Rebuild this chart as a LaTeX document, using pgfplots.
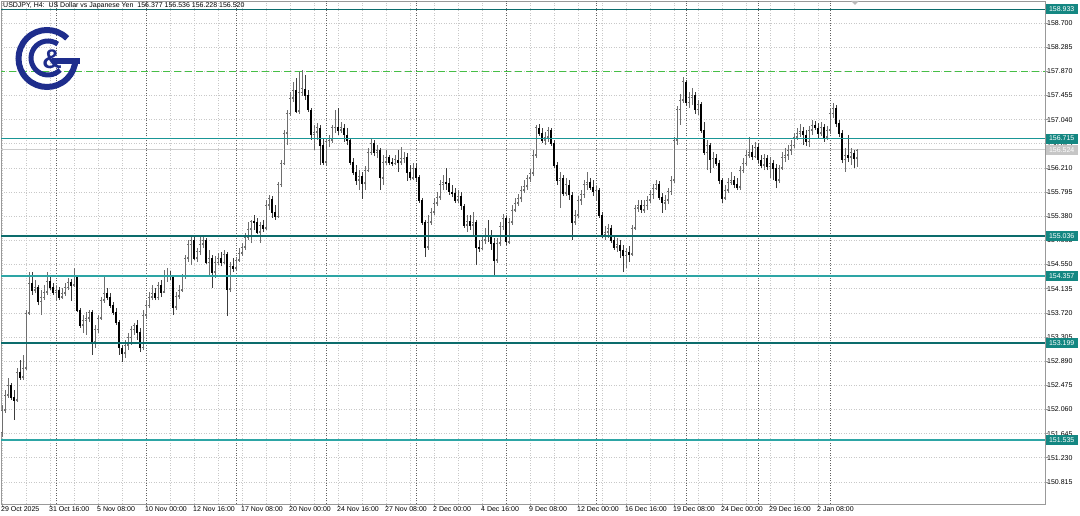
\documentclass[border=0pt]{standalone}
\usepackage{fontspec}
\setmainfont{Liberation Sans}
\usepackage{pgfplots}
\usepackage{pgfplotstable}
\pgfplotsset{compat=1.18}
\definecolor{bullc}{RGB}{110,110,110}
\definecolor{bearwick}{RGB}{60,60,60}
\definecolor{gridc}{RGB}{200,200,200}
\definecolor{sepc}{RGB}{95,95,95}
\definecolor{lvdark}{RGB}{12,108,108}
\definecolor{lvmid}{RGB}{25,150,150}
\definecolor{lvlight}{RGB}{45,165,165}
\definecolor{boxc}{RGB}{20,135,130}
\definecolor{navy}{RGB}{30,45,140}
\definecolor{dashgreen}{RGB}{70,190,70}
\definecolor{bidc}{RGB}{205,205,205}

\pgfplotstableread{
i o h l c
0 151.66 152.14 151.59 152.05
1 152.05 152.40 152.00 152.31
2 152.31 152.60 152.26 152.48
5 152.22 152.77 152.19 152.70
7 152.62 153.00 152.57 152.77
8 152.77 153.77 152.74 153.72
9 153.72 154.42 153.68 154.23
11 154.11 154.29 154.06 154.16
13 153.91 154.11 153.68 153.98
14 153.98 154.20 153.94 154.08
15 154.08 154.42 154.03 154.27
18 154.08 154.20 153.94 154.11
20 153.99 154.15 153.96 154.06
21 154.06 154.23 154.01 154.16
22 154.16 154.32 154.11 154.25
24 154.20 154.49 154.16 154.34
27 153.51 153.68 153.37 153.60
28 153.60 153.73 153.34 153.63
29 153.63 153.77 153.56 153.73
31 153.22 153.51 153.12 153.43
32 153.43 153.68 153.37 153.63
33 153.63 153.99 153.60 153.94
34 153.94 154.37 153.89 154.06
41 153.03 153.25 152.94 153.17
42 153.17 153.37 153.08 153.30
43 153.30 153.49 153.17 153.43
44 153.43 153.55 153.34 153.51
47 153.12 153.77 153.08 153.68
48 153.68 153.94 153.63 153.85
49 153.85 154.08 153.80 153.99
50 153.99 154.20 153.94 154.06
52 153.98 154.25 153.94 154.20
54 154.08 154.46 154.06 154.34
55 154.34 154.49 154.25 154.37
58 153.82 154.08 153.77 154.01
59 154.01 154.20 153.96 154.11
60 154.11 154.39 154.08 154.34
61 154.34 154.71 154.30 154.66
62 154.66 154.97 154.59 154.89
63 154.89 155.02 154.54 154.97
65 154.66 154.83 154.59 154.77
66 154.77 155.02 154.71 154.90
67 154.90 155.04 154.83 154.97
69 154.59 154.80 154.37 154.66
71 154.42 154.70 154.32 154.58
72 154.58 154.75 154.54 154.66
74 154.59 154.80 154.56 154.73
76 154.13 154.59 154.08 154.52
78 154.49 154.68 154.46 154.63
79 154.63 154.83 154.59 154.75
80 154.75 154.92 154.70 154.85
81 154.85 155.09 154.80 155.02
82 155.02 155.28 154.97 155.16
83 155.16 155.32 154.92 155.30
86 155.11 155.28 154.92 155.23
88 155.18 155.66 155.14 155.57
89 155.57 155.74 155.49 155.68
92 155.38 155.97 155.35 155.92
93 155.92 156.35 155.88 156.29
94 156.29 156.86 156.26 156.81
95 156.81 157.21 156.60 157.15
96 157.15 157.51 157.10 157.41
97 157.41 157.69 157.34 157.55
99 157.19 157.86 157.14 157.51
100 157.51 157.89 157.45 157.57
104 156.78 156.95 156.52 156.83
105 156.83 156.98 156.69 156.90
108 156.31 156.72 156.26 156.66
109 156.66 156.78 156.57 156.69
110 156.69 156.95 156.64 156.90
111 156.90 157.21 156.81 156.91
113 156.86 157.00 156.81 156.90
119 156.00 156.17 155.83 156.07
121 155.95 156.24 155.83 156.17
122 156.17 156.55 156.14 156.48
123 156.48 156.72 156.43 156.64
125 156.48 156.60 156.38 156.52
127 156.04 156.43 155.92 156.31
128 156.31 156.52 156.26 156.40
131 156.29 156.43 156.26 156.35
133 156.31 156.57 156.26 156.38
134 156.38 156.48 156.29 156.40
137 156.04 156.29 156.00 156.21
142 154.85 155.40 154.80 155.28
143 155.28 155.52 155.23 155.45
144 155.45 155.69 155.40 155.61
145 155.61 155.80 155.56 155.71
146 155.71 156.00 155.66 155.92
147 155.92 156.09 155.83 155.97
152 155.66 155.83 155.61 155.73
155 155.23 155.40 155.11 155.30
157 155.23 155.45 155.02 155.28
160 154.83 155.06 154.80 154.97
161 154.97 155.18 154.90 155.06
165 154.63 155.01 154.58 154.92
166 154.92 155.28 154.87 155.20
167 155.20 155.42 155.14 155.35
169 154.94 155.35 154.90 155.28
170 155.28 155.57 155.23 155.49
171 155.49 155.69 155.45 155.61
172 155.61 155.76 155.56 155.69
173 155.69 155.90 155.62 155.83
174 155.83 156.00 155.78 155.90
175 155.90 156.09 155.83 156.04
176 156.04 156.19 155.97 156.12
177 156.12 156.52 156.07 156.43
178 156.43 156.95 156.38 156.90
181 156.69 156.83 156.60 156.74
182 156.74 156.91 156.66 156.86
186 156.00 156.14 155.52 156.04
188 155.78 156.04 155.73 155.92
191 155.28 155.49 155.23 155.40
192 155.40 155.73 155.35 155.66
193 155.66 155.83 155.57 155.75
194 155.75 156.00 155.69 155.92
195 155.92 156.14 155.83 155.97
198 155.80 155.92 155.66 155.83
201 155.06 155.21 154.97 155.11
202 155.11 155.25 155.01 155.18
205 154.85 155.01 154.77 154.89
208 154.71 154.83 154.49 154.77
210 154.73 155.23 154.70 155.18
211 155.18 155.57 155.14 155.52
212 155.52 155.66 155.45 155.57
214 155.49 155.66 155.44 155.56
215 155.56 155.73 155.49 155.66
216 155.66 155.83 155.61 155.75
217 155.75 155.93 155.68 155.86
218 155.86 156.00 155.83 155.93
221 155.61 155.75 155.49 155.66
222 155.66 155.86 155.59 155.80
223 155.80 156.07 155.75 156.00
224 156.00 156.74 155.95 156.69
225 156.69 157.27 156.60 157.21
226 157.21 157.48 156.95 157.38
227 157.38 157.77 157.33 157.69
229 157.33 157.51 157.24 157.43
230 157.43 157.58 157.29 157.46
232 157.21 157.38 157.12 157.31
235 156.48 156.69 156.17 156.60
237 156.35 156.48 156.21 156.38
241 155.69 155.92 155.66 155.83
242 155.83 156.04 155.78 155.97
243 155.97 156.14 155.92 156.00
246 155.88 156.24 155.83 156.17
247 156.17 156.38 156.12 156.29
248 156.29 156.52 156.24 156.43
249 156.43 156.74 156.38 156.48
251 156.41 156.66 156.38 156.57
254 156.26 156.45 156.17 156.38
256 156.23 156.40 156.04 156.29
259 156.00 156.26 155.95 156.21
260 156.21 156.48 156.17 156.40
261 156.40 156.55 156.31 156.43
262 156.43 156.60 156.35 156.52
263 156.52 156.69 156.43 156.60
264 156.60 156.81 156.55 156.74
265 156.74 156.90 156.69 156.81
266 156.81 156.97 156.74 156.84
269 156.66 156.93 156.57 156.86
270 156.86 157.03 156.78 156.95
273 156.81 157.00 156.76 156.91
275 156.74 156.93 156.69 156.86
276 156.86 157.24 156.81 157.15
277 157.15 157.33 157.07 157.24
281 156.35 156.55 156.14 156.43
283 156.40 156.55 156.26 156.47
285 156.377 156.536 156.228 156.520
}\bull

\pgfplotstableread{
i o h l c
3 152.48 152.52 152.22 152.27
4 152.27 152.40 151.88 152.22
6 152.70 152.91 152.57 152.62
10 154.23 154.42 154.03 154.11
12 154.16 154.20 153.85 153.91
16 154.27 154.37 154.11 154.16
17 154.16 154.23 154.03 154.08
19 154.11 154.16 153.94 153.99
23 154.25 154.30 153.92 154.20
25 154.34 154.37 153.73 153.77
26 153.77 153.80 153.46 153.51
30 153.73 153.77 153.00 153.22
35 154.06 154.15 153.94 153.99
36 153.99 154.06 153.80 153.85
37 153.85 153.91 153.68 153.73
38 153.73 153.80 153.51 153.56
39 153.56 153.60 153.00 153.12
40 153.12 153.17 152.88 153.03
45 153.51 153.60 153.25 153.39
46 153.39 153.46 153.05 153.12
51 154.06 154.15 153.94 153.98
53 154.20 154.29 153.99 154.08
56 154.37 154.44 154.29 154.34
57 154.34 154.37 153.68 153.82
64 154.97 155.02 154.63 154.66
68 154.97 155.01 154.56 154.59
70 154.66 154.71 154.15 154.42
73 154.66 154.77 154.52 154.59
75 154.73 154.77 153.67 154.13
77 154.52 154.66 154.42 154.49
84 155.30 155.40 155.14 155.28
85 155.28 155.35 155.07 155.11
87 155.23 155.32 155.11 155.18
90 155.68 155.73 155.35 155.45
91 155.45 155.57 155.32 155.38
98 157.55 157.76 157.15 157.19
101 157.57 157.81 157.38 157.46
102 157.46 157.55 157.17 157.21
103 157.21 157.24 156.69 156.78
106 156.90 156.95 156.26 156.60
107 156.60 156.72 156.26 156.31
112 156.91 157.24 156.78 156.86
114 156.90 156.97 156.66 156.78
115 156.78 156.90 156.60 156.69
116 156.69 156.72 156.26 156.31
117 156.31 156.38 156.09 156.14
118 156.14 156.26 155.92 156.00
120 156.07 156.14 155.68 155.95
124 156.64 156.69 156.41 156.48
126 156.52 156.55 155.83 156.04
129 156.40 156.43 156.26 156.31
130 156.31 156.38 156.24 156.29
132 156.35 156.52 156.14 156.31
135 156.40 156.47 155.99 156.14
136 156.14 156.26 156.00 156.04
138 156.21 156.29 155.97 156.05
139 156.05 156.09 155.61 155.66
140 155.66 155.69 155.23 155.28
141 155.28 155.32 154.68 154.85
148 155.97 156.21 155.83 155.95
149 155.95 156.04 155.75 155.80
150 155.80 155.92 155.71 155.78
151 155.78 155.87 155.61 155.66
153 155.73 155.80 155.49 155.56
154 155.56 155.59 155.18 155.23
156 155.30 155.40 155.14 155.23
158 155.28 155.32 154.54 154.85
159 154.85 154.97 154.77 154.83
162 155.06 155.32 154.94 155.04
163 155.04 155.14 154.80 154.92
164 154.92 155.01 154.37 154.63
168 155.35 155.38 154.89 154.94
179 156.90 156.97 156.76 156.81
180 156.81 156.90 156.64 156.69
183 156.86 156.90 156.59 156.64
184 156.64 156.69 156.21 156.26
185 156.26 156.31 155.92 156.00
187 156.04 156.09 155.73 155.78
189 155.92 156.00 155.66 155.75
190 155.75 155.80 154.97 155.28
196 155.97 156.04 155.83 155.88
197 155.88 156.00 155.73 155.80
199 155.83 155.87 155.35 155.40
200 155.40 155.45 155.01 155.06
203 155.18 155.23 154.92 154.97
204 154.97 155.06 154.80 154.85
206 154.89 154.97 154.66 154.80
207 154.80 154.89 154.42 154.71
209 154.77 154.87 154.59 154.73
213 155.57 155.66 155.44 155.49
219 155.93 155.99 155.66 155.71
220 155.71 155.78 155.44 155.61
228 157.69 157.72 157.27 157.33
231 157.46 157.51 157.14 157.21
233 157.31 157.34 156.81 156.86
234 156.86 157.00 156.43 156.48
236 156.60 156.64 156.12 156.35
238 156.38 156.45 156.24 156.29
239 156.29 156.35 155.93 156.00
240 156.00 156.04 155.61 155.69
244 156.00 156.07 155.86 155.93
245 155.93 156.04 155.83 155.88
250 156.48 156.60 156.35 156.41
252 156.57 156.64 156.29 156.35
253 156.35 156.43 156.21 156.26
255 156.38 156.43 156.17 156.23
257 156.29 156.35 156.00 156.21
258 156.21 156.28 155.86 156.00
267 156.84 156.91 156.60 156.78
268 156.78 156.86 156.59 156.66
271 156.95 157.02 156.86 156.90
272 156.90 156.98 156.72 156.81
274 156.91 156.97 156.66 156.74
278 157.24 157.29 156.91 156.98
279 156.98 157.03 156.74 156.81
280 156.81 156.86 156.29 156.35
282 156.43 156.78 156.31 156.40
284 156.47 156.52 156.21 156.38
}\bear

\begin{document}
\begin{tikzpicture}[x=1pt,y=1pt]
\path[use as bounding box] (0,0) rectangle (1080,516);
\begin{axis}[
  at={(1pt,12pt)}, anchor=south west,
  scale only axis, width=1044pt, height=503pt,
  xmin=-0.333, xmax=347.67, ymin=150.436, ymax=159.078,
  clip mode=individual,
  axis line style={draw=gray!80, line width=0.8pt},
  /pgf/number format/assume math mode=true,
  xtick={0,16,...,272},
  xticklabels={29 Oct 2025,31 Oct 16:00,5 Nov 08:00,10 Nov 00:00,12 Nov 16:00,17 Nov 08:00,20 Nov 00:00,24 Nov 16:00,27 Nov 08:00,2 Dec 00:00,4 Dec 16:00,9 Dec 08:00,12 Dec 00:00,16 Dec 16:00,19 Dec 08:00,24 Dec 00:00,29 Dec 16:00,2 Jan 08:00},
  minor x tick num=1,
  ytick={150.815,151.230,151.645,152.060,152.475,152.890,153.305,153.720,154.135,154.550,154.965,155.380,155.795,156.210,156.625,157.040,157.455,157.870,158.285,158.700},
  yticklabel pos=right,
  yticklabel={\pgfmathprintnumber[fixed,fixed zerofill,precision=3,1000 sep={}]{\tick}},
  tick align=outside,
  major tick length=3pt, minor tick length=0pt,
  tick style={gray!80, line width=0.6pt},
  xtick pos=bottom, ytick pos=right,
  xticklabel style={font=\fontsize{7}{8}\selectfont, anchor=north west, inner sep=0pt, xshift=-1pt, yshift=1pt},
  yticklabel style={font=\fontsize{7}{8}\selectfont, anchor=west, inner sep=0pt, xshift=-1pt},
  grid=both,
  major grid style={gridc, line width=0.6pt, dash pattern=on 1pt off 1.5pt},
  minor grid style={gridc, line width=0.6pt, dash pattern=on 1pt off 1.5pt},
  extra x ticks={18,48,78,108,138,168,198,228,252,276},
  extra x tick labels={},
  extra x tick style={major tick length=0pt, major grid style={sepc, line width=0.7pt, dash pattern=on 1pt off 1.5pt}},
]
% bid line
\addplot[bidc, line width=1pt, forget plot] coordinates {(-5,156.524) (400,156.524)};
% wicks
\addplot[bullc, line width=0.7pt, mark=none, forget plot, quiver={u=0, v=\thisrow{h}-\thisrow{l}}] table[x=i, y=l]{\bull};
\addplot[bearwick, line width=0.7pt, mark=none, forget plot, quiver={u=0, v=\thisrow{h}-\thisrow{l}}] table[x=i, y=l]{\bear};
% bear bodies
\addplot[black, line width=2.4pt, mark=none, forget plot, quiver={u=0, v=\thisrow{o}-\thisrow{c}}] table[x=i, y=c]{\bear};
\addplot[only marks, mark=-, mark size=1.2pt, black, line width=0.7pt, forget plot] table[x=i, y=c]{\bear};
% bull bodies
\addplot[bullc, line width=2.6pt, mark=none, forget plot, quiver={u=0, v=\thisrow{c}-\thisrow{o}}] table[x=i, y=o]{\bull};
\addplot[only marks, mark=-, mark size=1.3pt, bullc, line width=0.6pt, forget plot] table[x=i, y=o]{\bull};
\addplot[only marks, mark=-, mark size=1.3pt, bullc, line width=0.6pt, forget plot] table[x=i, y=c]{\bull};
\addplot[white, line width=1.0pt, mark=none, forget plot, shorten <=0.7pt, shorten >=0.7pt, quiver={u=0, v=\thisrow{c}-\thisrow{o}}] table[x=i, y=o]{\bull};
% levels
\addplot[lvdark, line width=1.5pt, forget plot] coordinates {(-5,158.933) (400,158.933)};
\addplot[lvmid, line width=1.8pt, forget plot] coordinates {(-5,156.715) (400,156.715)};
\addplot[lvdark, line width=1.8pt, forget plot] coordinates {(-5,155.036) (400,155.036)};
\addplot[lvlight, line width=1.8pt, forget plot] coordinates {(-5,154.357) (400,154.357)};
\addplot[lvdark, line width=1.8pt, forget plot] coordinates {(-5,153.199) (400,153.199)};
\addplot[lvlight, line width=1.8pt, forget plot] coordinates {(-5,151.535) (400,151.535)};
\addplot[dashgreen, line width=1.3pt, dash pattern=on 7pt off 4pt, forget plot] coordinates {(-5,157.870) (400,157.870)};
\coordinate (L1) at (axis cs:347.67,158.933);
\coordinate (L2) at (axis cs:347.67,156.715);
\coordinate (L3) at (axis cs:347.67,155.036);
\coordinate (L4) at (axis cs:347.67,154.357);
\coordinate (L5) at (axis cs:347.67,153.199);
\coordinate (L6) at (axis cs:347.67,151.535);
\coordinate (LB) at (axis cs:347.67,156.524);
\end{axis}
\tikzset{lvbox/.style={anchor=west, fill=boxc, text=white, font=\fontsize{7}{8}\selectfont, inner xsep=1.5pt, inner ysep=0pt, minimum height=10pt, minimum width=32pt, xshift=0.5pt}}
\node[lvbox] at (L1) {158.933};
\node[lvbox] at (L2) {156.715};
\node[lvbox] at (L3) {155.036};
\node[lvbox] at (L4) {154.357};
\node[lvbox] at (L5) {153.199};
\node[lvbox] at (L6) {151.535};
\node[lvbox, fill=gray!45] at (LB) {156.524};
% title
\node[anchor=north west, inner sep=0pt, font=\fontsize{7}{8}\selectfont] at (3,514) {USDJPY, H4:\ \ US Dollar vs Japanese Yen\ \ 156.377 156.536 156.228 156.520};
% shift marker
\fill[gray!55] (851,515) -- (859,515) -- (855,511) -- cycle;
% logo
\draw[navy, line width=6pt] (47,457.5) ++(45:28.5) arc[start angle=45, end angle=358, radius=28.5];
\draw[navy, line width=5.5pt] (52,455) -- (80,455);
\draw[navy, line width=5pt] (48,458) ++(55:17) arc[start angle=55, end angle=315, radius=17];
\node[navy, font=\fontsize{27}{27}\bfseries\selectfont, inner sep=0pt] at (52,457) {\&};
\end{tikzpicture}
\end{document}
